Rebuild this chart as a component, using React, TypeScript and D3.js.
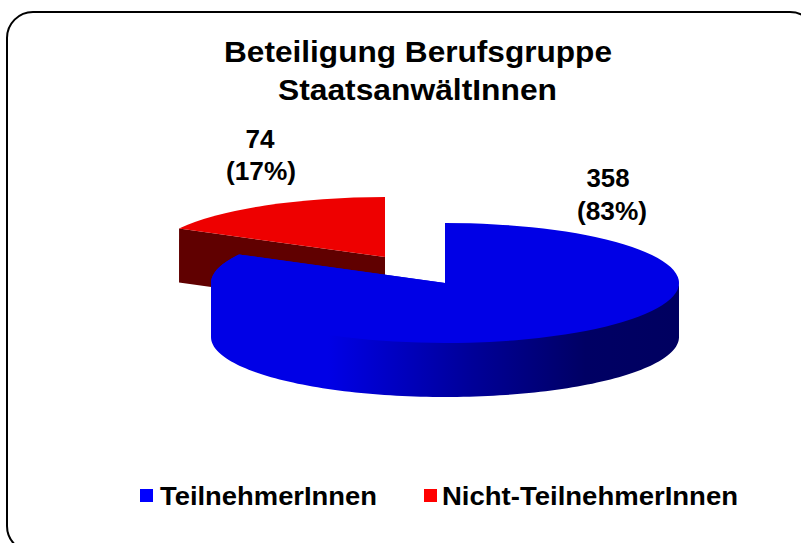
import React from "react";
import * as d3 from "d3";

const categories = ["TeilnehmerInnen", "Nicht-TeilnehmerInnen"];
const values = [358, 74];
const percents = ["83%", "17%"];
const titleLines = ["Beteiligung Berufsgruppe", "StaatsanwältInnen"];

const FONT = "'Liberation Sans', Arial, sans-serif";
const rx = 234, ry = 60, depth = 54;
const apex = [{ x: 445, y: 283 }, { x: 385, y: 257 }];
const topFill = ["#0000e6", "#ee0000"];
const sideFill = ["#0000e6", "#600000"];

function pt(c: { x: number; y: number }, a: number, dy = 0): [number, number] {
  return [c.x + rx * Math.sin(a), c.y - ry * Math.cos(a) + dy];
}
const line = d3.line();

export default function App() {
  const arcs = d3.pie<number>().sort(null).startAngle(0).endAngle(2 * Math.PI)(values);
  const arcGen = d3.arc<any>().innerRadius(0).outerRadius(rx);
  const draw = [1, 0];
  const titleLayout = [{ x: 224, y: 62, w: 388 }, { x: 278, y: 100, w: 279 }];
  const labelLayout = [
    { cx: 608, y: 187, w1: 43, x2: 577, y2: 220, w2: 70 },
    { cx: 260, y: 148, w1: 29, x2: 226, y2: 180, w2: 70 },
  ];
  const legendLayout = [{ sx: 140, tx: 160, w: 217 }, { sx: 424, tx: 442, w: 296 }];
  return (
    <svg width={801} height={543} style={{ position: "fixed", left: 0, top: 0, background: "#fff" }}>
      <defs>
        <linearGradient id="wall" gradientUnits="userSpaceOnUse" x1={211} x2={679} y1={0} y2={0}>
          <stop offset="0.25" stopColor="#0000e6" />
          <stop offset="0.55" stopColor="#00009a" />
          <stop offset="0.8" stopColor="#000064" />
          <stop offset="1" stopColor="#000060" />
        </linearGradient>
      </defs>
      <rect x={7} y={12} width={809} height={540} rx={26} ry={26} fill="#fff" stroke="#000" strokeWidth={2} />
      {titleLines.map((t, i) => (
        <text key={t} x={titleLayout[i].x} y={titleLayout[i].y} textLength={titleLayout[i].w} lengthAdjust="spacingAndGlyphs" fontFamily={FONT} fontWeight="bold" fontSize={29} fill="#000">{t}</text>
      ))}
      {draw.map((i) => {
        const d = arcs[i];
        const c = apex[i];
        const a0 = d.startAngle, a1 = d.endAngle;
        const from = Math.max(a0, Math.PI / 2), to = Math.min(a1, (3 * Math.PI) / 2);
        const samples = to > from ? d3.range(0, 121).map((k) => from + ((to - from) * k) / 120) : [];
        const wall = samples.length
          ? line([...samples.map((a) => pt(c, a, -2)), ...samples.slice().reverse().map((a) => pt(c, a, depth))])
          : null;
        const faceEnd = line([pt(c, a1), [c.x, c.y], [c.x, c.y + depth], pt(c, a1, depth)]);
        const faceStart = i === 1 ? line([pt(c, a0), [c.x, c.y], [c.x, c.y + depth], pt(c, a0, depth)]) : null;
        const upper = i === 0
          ? line([...d3.range(0, 21).map((k) => pt(c, Math.PI * 1.5 + ((a1 - Math.PI * 1.5) * k) / 20)), ...d3.range(20, -1, -1).map((k) => pt(c, Math.PI * 1.5 + ((a1 - Math.PI * 1.5) * k) / 20, depth))])
          : null;
        return (
          <g key={categories[i]}>
            {faceStart && <path d={faceStart} fill={sideFill[i]} />}
            <path d={faceEnd!} fill={sideFill[i]} />
            {upper && <path d={upper} fill={sideFill[i]} />}
            {wall && <path d={wall} fill={i === 0 ? "url(#wall)" : sideFill[i]} />}
            <g transform={`translate(${c.x},${c.y}) scale(1,${ry / rx})`}>
              <path d={arcGen({ startAngle: a0, endAngle: a1 })!} fill={topFill[i]} />
            </g>
          </g>
        );
      })}
      {labelLayout.map((p, i) => (
        <g key={i} fontFamily={FONT} fontWeight="bold" fontSize={25} fill="#000">
          <text x={p.cx - p.w1 / 2} y={p.y} textLength={p.w1} lengthAdjust="spacingAndGlyphs">{values[i]}</text>
          <text x={p.x2} y={p.y2} textLength={p.w2} lengthAdjust="spacingAndGlyphs">({percents[i]})</text>
        </g>
      ))}
      {legendLayout.map((p, i) => (
        <g key={categories[i]}>
          <rect x={p.sx} y={489} width={13} height={13} fill={i === 0 ? "#0000ff" : "#ff0000"} />
          <text x={p.tx} y={505} textLength={p.w} lengthAdjust="spacingAndGlyphs" fontFamily={FONT} fontWeight="bold" fontSize={25} fill="#000">{categories[i]}</text>
        </g>
      ))}
    </svg>
  );
}
